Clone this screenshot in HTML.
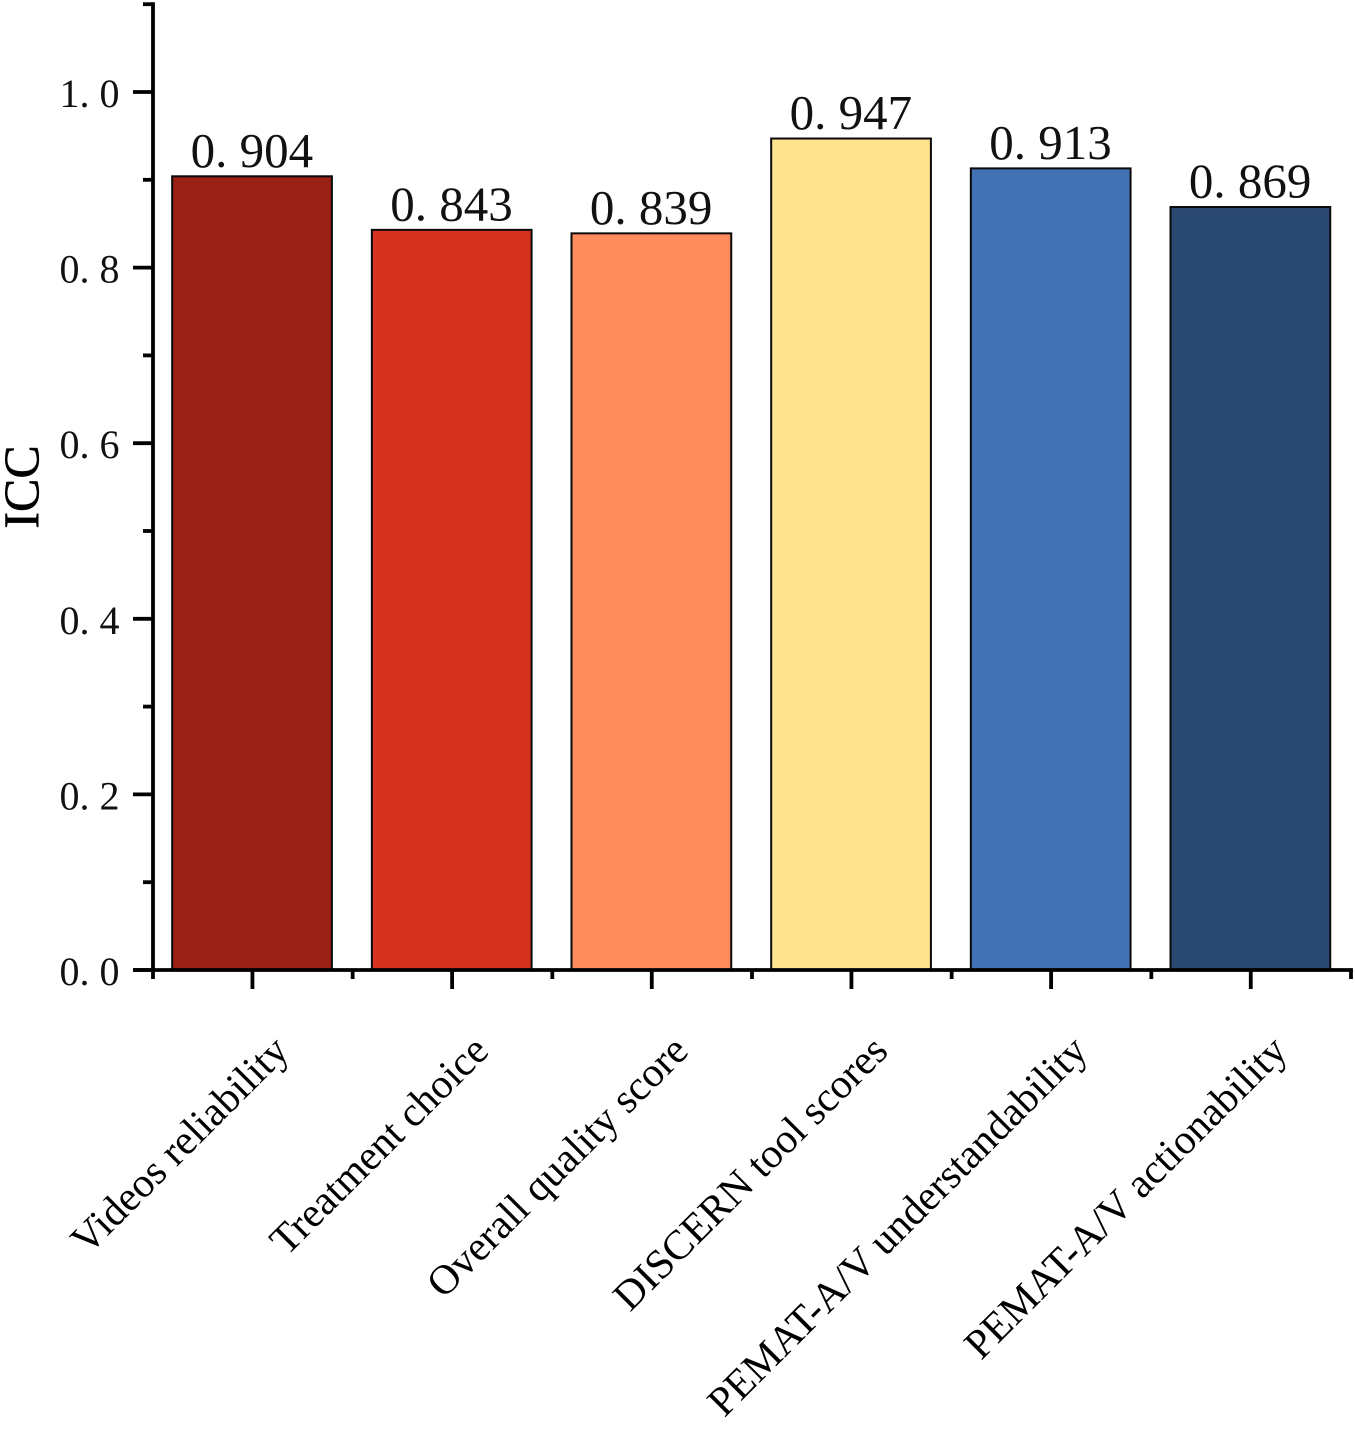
<!DOCTYPE html>
<html>
<head>
<meta charset="utf-8">
<style>
html,body{margin:0;padding:0;background:#fff}
svg{display:block}
text{fill:#111}
.num{font-family:"Liberation Serif",serif;font-size:49px;font-weight:400}
.cat{font-family:"Liberation Serif",serif;font-size:41.6px;fill:#000}
.ttl{font-family:"Liberation Serif",serif;font-size:50px;fill:#000;stroke:#000;stroke-width:.5px}
</style>
</head>
<body>
<svg id="chart" xmlns="http://www.w3.org/2000/svg" width="1355" height="1429" viewBox="0 0 1355 1429">
<rect width="1355" height="1429" fill="#ffffff"/>
<text class="ttl" transform="translate(38,487) rotate(-90)" text-anchor="middle">ICC</text>
</svg>
<script>
const categories = ["Videos reliability","Treatment choice","Overall quality score","DISCERN tool scores","PEMAT-A/V understandability","PEMAT-A/V actionability"];
const values = [0.904,0.843,0.839,0.947,0.913,0.869];
const valueLabels = ["0. 904","0. 843","0. 839","0. 947","0. 913","0. 869"];
const colors = ["#9b2015","#d63220","#ff8c5c","#ffe38f","#4272b4","#294872"];
const majorTicks = [0,0.2,0.4,0.6,0.8,1.0];
const majorTickLabels = ["0. 0","0. 2","0. 4","0. 6","0. 8","1. 0"];
const minorTicks = [0.1,0.3,0.5,0.7,0.9,1.1];

const NS = "http://www.w3.org/2000/svg";
const svg = document.getElementById("chart");
const X0 = 153, X1 = 1351, Y0 = 970, UNIT = 878;
const yTop = 1.1;
function yScale(v){ return Y0 - v * UNIT; }
function band(){ return (X1 - X0) / categories.length; }
function xScale(i){ return X0 + (i + 0.5) * band(); }
function make(tag, attrs){
  const el = document.createElementNS(NS, tag);
  for (const k in attrs) el.setAttribute(k, attrs[k]);
  svg.appendChild(el);
  return el;
}

categories.forEach(function(c, i){
  const w = band() * 0.8;
  const bar = make("rect", {x: xScale(i) - w / 2 - 0.8, y: yScale(values[i]), width: w, height: Y0 - yScale(values[i]), fill: colors[i], stroke: "#0a0a0a", "stroke-width": 2});
  
  

  const lbl = make("text", {x: xScale(i) - 1, y: yScale(values[i]) - 9.5, "text-anchor": "middle", class: "num"});
  
  
  lbl.textContent = valueLabels[i];

  const tick = make("line", {x1: xScale(i) - 0.4, x2: xScale(i) - 0.4, y1: Y0, y2: Y0 + 19, stroke: "#000", "stroke-width": 3.8});
  
  

  const mx = X0 + (i + 1) * band();
  const mt = make("line", {x1: mx, x2: mx, y1: Y0, y2: Y0 + 9, stroke: "#000", "stroke-width": 3.8});
  
  

  const cat = make("text", {transform: "translate(" + (xScale(i) + 38) + ",1053) rotate(-45)", "text-anchor": "end", class: "cat"});
  
  
  cat.textContent = c;
});

majorTicks.forEach(function(v, i){
  const t = make("line", {x1: X0 - 20, x2: X0, y1: yScale(v), y2: yScale(v), stroke: "#000", "stroke-width": 3.8});
  
  
  const l = make("text", {x: 119.5, y: yScale(v) + 15, "text-anchor": "end", class: "num", style: "font-size:40px"});
  
  
  l.textContent = majorTickLabels[i];
});
minorTicks.forEach(function(v){
  const t = make("line", {x1: X0 - 10, x2: X0, y1: yScale(v), y2: yScale(v), stroke: "#000", "stroke-width": 3.8});
  
  
});

const ya = make("line", {x1: X0, x2: X0, y1: yScale(yTop) - 1.9, y2: Y0 + 9, stroke: "#000", "stroke-width": 3.8});


const xa = make("line", {x1: X0 - 20, x2: X1 + 1.9, y1: Y0, y2: Y0, stroke: "#000", "stroke-width": 3.8});


</script>
</body>
</html>
